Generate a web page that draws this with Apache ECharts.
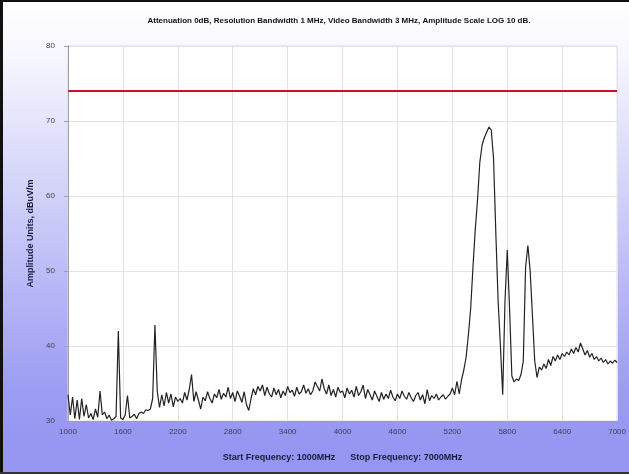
<!DOCTYPE html>
<html><head><meta charset="utf-8">
<script src="https://cdn.jsdelivr.net/npm/echarts@6/dist/echarts.min.js"></script>
<style>html,body{margin:0;padding:0;background:#fff}#c{width:629px;height:474px}</style>
</head><body><div id="c"></div>
<script>
const TITLE = 'Attenuation 0dB, Resolution Bandwidth 1 MHz, Video Bandwidth 3 MHz, Amplitude Scale LOG 10 dB.';
const X_NAME = 'Start Frequency: 1000MHz      Stop Frequency: 7000MHz';
const Y_NAME = 'Amplitude Units, dBuV/m';
const START_MHZ = 1000;
const STEP_MHZ = 25;
const LIMIT = 74;
const amplitude = [
 33.5,30.8,33.2,30.3,32.8,30.2,33.0,30.6,32.2,30.4,31.0,30.2,31.6,30.5,34.0,30.8,31.2,30.3,30.8,30.1,
 30.3,30.6,42.0,30.4,30.2,30.8,33.4,30.4,30.6,30.9,30.3,31.0,31.2,31.0,31.5,31.4,31.6,33.0,42.8,34.0,
 31.8,33.5,32.0,33.8,32.4,33.6,31.9,33.2,32.6,33.0,32.4,33.8,32.8,34.2,36.2,32.6,33.9,32.8,31.6,33.2,
 32.7,33.9,33.0,32.4,33.6,33.1,34.2,32.9,33.7,33.2,34.5,33.0,33.8,32.6,34.0,33.3,32.5,33.9,32.2,31.4,
 33.0,34.3,33.5,34.6,34.0,34.8,33.4,34.5,33.6,33.2,34.4,33.5,34.2,33.1,34.0,33.4,34.6,33.8,34.1,33.3,
 34.5,33.6,33.9,34.8,33.7,34.3,33.5,34.0,35.2,34.6,34.0,35.6,34.3,33.6,34.8,33.4,34.2,33.2,34.5,33.8,
 34.0,33.1,34.4,33.6,34.1,33.2,34.6,33.4,33.9,34.8,33.0,34.2,33.5,32.8,34.0,33.3,32.6,33.8,32.9,33.6,
 33.0,34.1,33.2,32.7,33.6,33.0,34.0,33.3,32.9,33.8,33.1,32.6,33.4,33.8,32.8,33.5,32.3,34.2,32.7,33.4,
 33.0,33.6,32.8,33.2,33.5,32.9,33.3,33.6,34.4,33.5,35.3,33.6,35.5,36.8,38.5,41.5,45.0,50.5,55.5,59.5,
 64.5,66.8,67.8,68.5,69.2,68.8,65.0,55.0,46.0,40.0,33.5,46.0,52.8,45.0,36.0,35.2,35.6,35.4,36.2,38.0,
 50.5,53.4,50.0,44.0,38.0,35.8,37.2,36.8,37.6,37.0,38.2,37.4,38.6,38.0,38.8,38.2,39.0,38.6,39.2,38.8,
 39.6,39.0,39.8,39.2,40.4,39.6,38.8,39.4,38.5,39.0,38.2,38.6,38.0,38.4,37.8,38.2,37.6,38.0,37.7,38.1,
 37.8
];
const data = amplitude.map((v, i) => [START_MHZ + i * STEP_MHZ, v]);
const FONT = 'Liberation Sans';
const chart = echarts.init(document.getElementById('c'), null, {renderer: 'canvas'});
chart.setOption({
  animation: false,
  backgroundColor: {type: 'linear', x: 0, y: 0, x2: 0, y2: 1,
    colorStops: [{offset: 0, color: '#ffffff'}, {offset: 0.12, color: '#f6f6fe'}, {offset: 0.82, color: '#9c9cf3'}, {offset: 1, color: '#9494f2'}]},
  title: {text: TITLE, left: 334, top: 12, textAlign: 'center',
    textStyle: {fontFamily: FONT, fontSize: 8, fontWeight: 'bold', color: '#111'}},
  grid: {left: 68, right: 10, top: 46, bottom: 53, show: true, backgroundColor: '#ffffff', borderWidth: 1, borderColor: '#d8d8e4'},
  xAxis: {type: 'value', min: 1000, max: 7000, interval: 600,
    name: X_NAME, nameLocation: 'middle', nameGap: 32,
    nameTextStyle: {fontFamily: FONT, fontSize: 9, fontWeight: 'bold', color: '#1a1a3a'},
    axisLine: {lineStyle: {color: '#a0a0a8'}},
    axisTick: {show: true, length: 3, lineStyle: {color: '#a0a0a8'}},
    axisLabel: {fontFamily: FONT, fontSize: 8, color: '#3a3a5a', margin: 7, formatter: v => String(v)},
    splitLine: {show: true, lineStyle: {color: '#e2e2ea'}}},
  yAxis: {type: 'value', min: 30, max: 80, interval: 10,
    name: Y_NAME, nameLocation: 'middle', nameGap: 31,
    nameTextStyle: {fontFamily: FONT, fontSize: 9, fontWeight: 'bold', color: '#1a1a3a'},
    axisLine: {show: true, lineStyle: {color: '#a0a0a8'}},
    axisTick: {show: true, length: 4, lineStyle: {color: '#a0a0a8'}},
    axisLabel: {fontFamily: FONT, fontSize: 8, color: '#444', margin: 13, formatter: v => String(v)},
    splitLine: {show: true, lineStyle: {color: '#e2e2ea'}}},
  series: [{type: 'line', data: data, showSymbol: false, symbol: 'none',
    lineStyle: {color: '#222', width: 1.2},
    markLine: {silent: true, symbol: 'none', label: {show: false},
      lineStyle: {color: '#c8102e', width: 2, type: 'solid'},
      data: [{yAxis: LIMIT}]}}],
  graphic: [
    {type: 'rect', left: 0, top: 0, shape: {width: 629, height: 2}, style: {fill: '#111'}},
    {type: 'rect', left: 0, top: 0, shape: {width: 3, height: 474}, style: {fill: '#111'}},
    {type: 'rect', left: 0, top: 472, shape: {width: 629, height: 2}, style: {fill: '#333'}}
  ]
});
</script></body></html>
